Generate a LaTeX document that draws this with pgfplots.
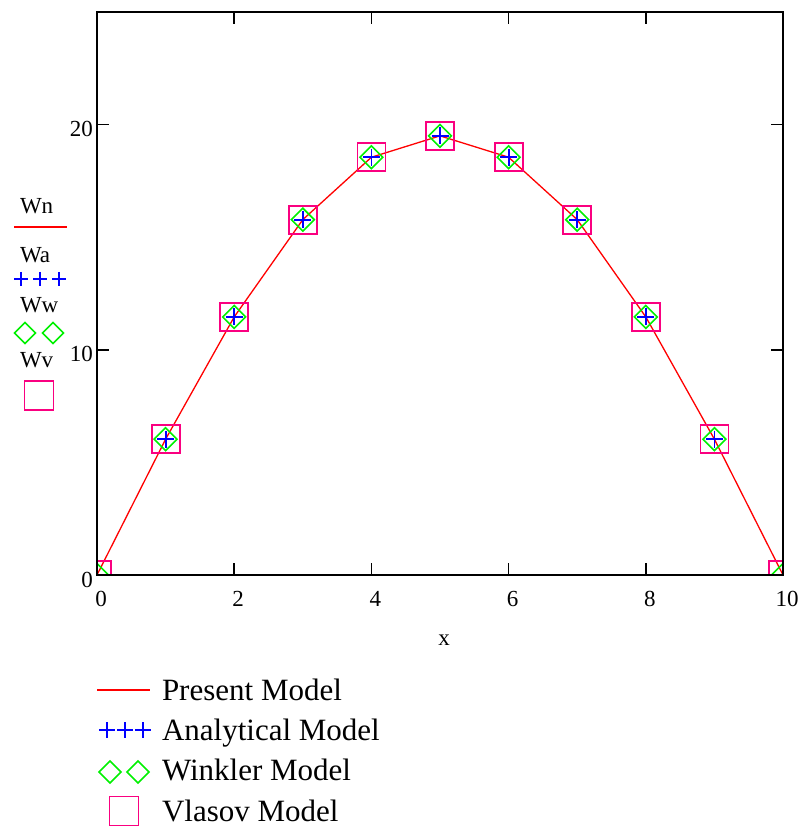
\documentclass[border=0pt]{standalone}
\usepackage{pgfplots}
\pgfplotsset{compat=1.18}
\usepackage{fontspec}
\setmainfont{Liberation Serif}
\definecolor{cred}{RGB}{255,0,0}
\definecolor{cblue}{RGB}{0,0,255}
\definecolor{cgreen}{RGB}{0,240,0}
\definecolor{cpink}{RGB}{250,0,128}
\newcommand{\tickfont}{\fontsize{23bp}{27bp}\selectfont}
\newcommand{\legfont}{\fontsize{31bp}{36bp}\selectfont}
\newcommand{\stackfont}{\fontsize{23bp}{27bp}\selectfont}
\tikzset{bbox/.style={draw=none, fill=none, use as bounding box}}
\pgfplotstableread{
x y
0 0
1 6.03
2 11.46
3 15.78
4 18.55
5 19.5
6 18.55
7 15.78
8 11.46
9 6.03
10 0
}\wn
\begin{document}
\begin{tikzpicture}
\begin{axis}[
  at={(97bp,252bp)}, anchor=south west,
  scale only axis, width=686bp, height=563bp,
  xmin=0, xmax=10, ymin=0, ymax=25,
  xtick={0,2,4,6,8,10}, ytick={0,10,20},
  axis line style={line width=2bp},
  major tick length=12bp,
  every tick/.style={black, line width=1.7bp},
  tick label style={font=\tickfont},
  /pgf/number format/assume math mode=true,
  xticklabel style={inner sep=0pt, anchor=north, yshift=-16bp, xshift=4bp},
  yticklabel style={inner sep=0pt, anchor=east, xshift=-4bp, yshift=-4.5bp},
  xlabel={x},
  xlabel style={font=\tickfont, at={(axis description cs:0.506,-0.1155)}, anchor=center, inner sep=0pt},
  clip marker paths=true,
  axis on top,
  legend style={at={(0,-0.15986)}, anchor=north west, draw=none, fill=none,
    inner sep=0pt, outer sep=0pt, row sep=0pt, column sep=0pt},
]
\addplot[cred, line width=1.3bp, no marks, forget plot] table[x=x,y=y] {\wn};
\addplot[cpink, line width=1.8bp, only marks, mark=square, mark size=14bp, forget plot] table[x=x,y=y] {\wn};
\addplot[cgreen, line width=1.6bp, only marks, mark=square, mark size=8.1bp, mark options={rotate=45}, forget plot] table[x=x,y=y] {\wn};
\addplot[cblue, line width=1.8bp, only marks, mark=+, mark size=8.5bp, forget plot] table[x=x,y=y] {\wn};

\addlegendimage{legend image code/.code={
  \path[bbox] (0bp,-20bp) rectangle (53bp,25bp);
  \draw[cred, line width=1.3bp] (0bp,0bp) -- (53bp,0bp);
  \node[draw=none, fill=none, anchor=base west, inner sep=0pt, font=\legfont, text=black] at (65bp,-10bp) {Present Model};
}}
\addlegendentry{\hbox{}}
\addlegendimage{legend image code/.code={
  \path[bbox] (0bp,-21bp) rectangle (53bp,20bp);
  \draw[cblue, line width=1.6bp, only marks, mark=+, mark size=8bp] plot coordinates {(10bp,0bp) (28bp,0bp) (46bp,0bp)};
  \node[draw=none, fill=none, anchor=base west, inner sep=0pt, font=\legfont, text=black] at (65bp,-10bp) {Analytical Model};
}}
\addlegendentry{\hbox{}}
\addlegendimage{legend image code/.code={
  \path[bbox] (0bp,-20bp) rectangle (53bp,21bp);
  \draw[cgreen, line width=1.6bp, only marks, mark=square, mark size=7.8bp, mark options={rotate=45}] plot coordinates {(13bp,0bp) (41bp,0bp)};
  \node[draw=none, fill=none, anchor=base west, inner sep=0pt, font=\legfont, text=black] at (65bp,-8bp) {Winkler Model};
}}
\addlegendentry{\hbox{}}
\addlegendimage{legend image code/.code={
  \path[bbox] (0bp,-16bp) rectangle (53bp,19bp);
  \draw[cpink, line width=1.8bp, only marks, mark=square, mark size=14.5bp] plot coordinates {(27bp,0bp)};
  \node[draw=none, fill=none, anchor=base west, inner sep=0pt, font=\legfont, text=black] at (65bp,-10bp) {Vlasov Model};
}}
\addlegendentry{\hbox{}}
\end{axis}

\begin{axis}[
  at={(97bp,252bp)}, anchor=south west,
  scale only axis, width=686bp, height=563bp,
  hide axis, xmin=0, xmax=1, ymin=0, ymax=1,
  legend style={at={(-0.12099,0.68384)}, anchor=north west, draw=none, fill=none,
    inner sep=0pt, outer sep=0pt, row sep=0pt, column sep=0pt},
]
\addlegendimage{legend image code/.code={
  \path[bbox] (0bp,-13bp) rectangle (53bp,37bp);
  \draw[cred, line width=1.3bp] (0bp,0bp) -- (53bp,0bp);
  \node[draw=none, fill=none, anchor=base west, inner sep=0pt, font=\stackfont, text=black] at (6bp,13bp) {Wn};
}}
\addlegendentry{\hbox{}}
\addlegendimage{legend image code/.code={
  \path[bbox] (0bp,-13bp) rectangle (53bp,39bp);
  \draw[cblue, line width=1.6bp, only marks, mark=+, mark size=7bp] plot coordinates {(7bp,0bp) (26bp,0bp) (45bp,0bp)};
  \node[draw=none, fill=none, anchor=base west, inner sep=0pt, font=\stackfont, text=black] at (6bp,16bp) {Wa};
}}
\addlegendentry{\hbox{}}
\addlegendimage{legend image code/.code={
  \path[bbox] (0bp,-12bp) rectangle (53bp,41bp);
  \draw[cgreen, line width=1.6bp, only marks, mark=square, mark size=7.4bp, mark options={rotate=45}] plot coordinates {(11bp,0bp) (39bp,0bp)};
  \node[draw=none, fill=none, anchor=base west, inner sep=0pt, font=\stackfont, text=black] at (6bp,20bp) {Ww};
}}
\addlegendentry{\hbox{}}
\addlegendimage{legend image code/.code={
  \path[bbox] (0bp,-19.5bp) rectangle (53bp,50.5bp);
  \draw[cpink, line width=1.8bp, only marks, mark=square, mark size=14.5bp] plot coordinates {(25bp,0bp)};
  \node[draw=none, fill=none, anchor=base west, inner sep=0pt, font=\stackfont, text=black] at (6bp,27.5bp) {Wv};
}}
\addlegendentry{\hbox{}}
\end{axis}
\pgfresetboundingbox
\path[bbox] (0bp,0bp) rectangle (805bp,827bp);
\end{tikzpicture}
\end{document}
